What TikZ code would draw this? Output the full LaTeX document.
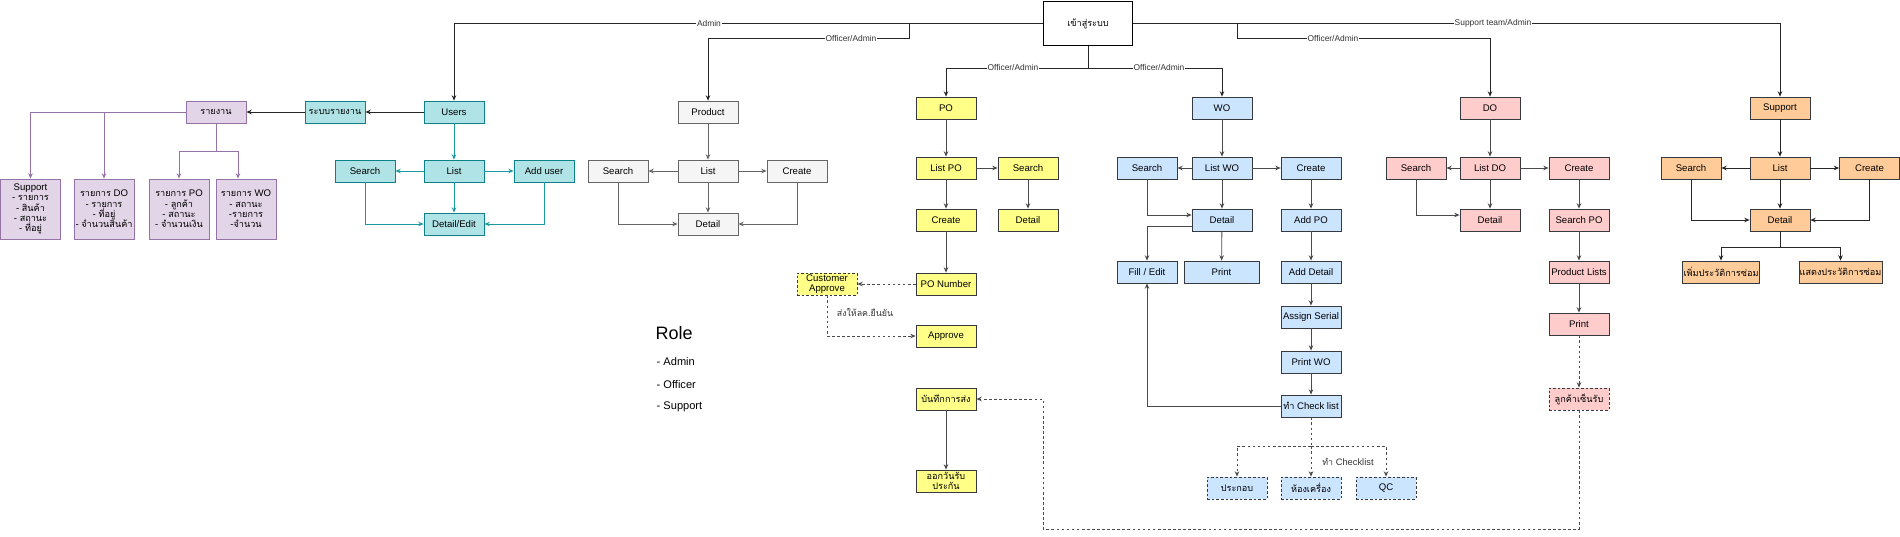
\documentclass[tikz,border=0pt]{standalone}
\usepackage{fontspec}
\setmainfont{Liberation Sans}
\newfontfamily\thaifont[Script=Thai,Scale=0.95]{Loma}
\newcommand\thtxt[1]{{\thaifont #1}}
\usetikzlibrary{arrows.meta,calc}
\definecolor{tealF}{HTML}{B0E3E6}\definecolor{tealD}{HTML}{0E8088}\definecolor{tealE}{HTML}{1A9AA0}
\definecolor{purF}{HTML}{E1D5E7}\definecolor{purD}{HTML}{9673A6}
\definecolor{grayF}{HTML}{F5F5F5}\definecolor{grayD}{HTML}{666666}
\definecolor{yelF}{HTML}{FFFF88}\definecolor{darkD}{HTML}{36393D}
\definecolor{bluF}{HTML}{CCE5FF}\definecolor{pinkF}{HTML}{FFCCCC}\definecolor{oraF}{HTML}{FFCC99}
\definecolor{edgeC}{HTML}{4A4A4A}\definecolor{lblC}{HTML}{333333}
\begin{document}
\begin{tikzpicture}[x=0.75pt,y=-0.75pt,
  font=\fontsize{7.2}{8}\selectfont,
  box/.style={draw, line width=0.6pt, minimum width=45pt, minimum height=16.5pt, inner sep=0.5pt, align=center},
  wide/.style={minimum width=56.25pt},
  tealbox/.style={box, fill=tealF, draw=tealD},
  purbox/.style={box, fill=purF, draw=purD},
  purtall/.style={purbox, minimum height=45pt, font=\fontsize{7.2}{7.7}\selectfont},
  graybox/.style={box, fill=grayF, draw=grayD},
  yelbox/.style={box, fill=yelF, draw=darkD},
  blubox/.style={box, fill=bluF, draw=darkD},
  pinkbox/.style={box, fill=pinkF, draw=darkD},
  orabox/.style={box, fill=oraF, draw=darkD},
  dbox/.style={dash pattern=on 2pt off 1.5pt},
  tip/.style={-{Stealth[length=4pt,width=3.4pt]}},
  earr/.style={tip, line width=0.6pt, draw=edgeC},
  eline/.style={line width=0.6pt, draw=edgeC},
  edash/.style={earr, dash pattern=on 2pt off 1.8pt},
  elinedash/.style={eline, dash pattern=on 2pt off 1.8pt},
  topedge/.style={tip, line width=0.6pt, draw=black!85},
  topline/.style={line width=0.6pt, draw=black!85},
  karr/.style={tip, line width=0.6pt, draw=black!85},
  tarr/.style={tip, line width=0.6pt, draw=tealE},
  parr/.style={tip, line width=0.6pt, draw=purD},
  garr/.style={tip, line width=0.6pt, draw=grayD},
  lbl/.style={fill=white, inner sep=0.6pt, text=lblC, font=\fontsize{6.3}{7}\selectfont},
  rolebig/.style={anchor=west, font=\fontsize{13.5}{16}\selectfont},
  rolesmall/.style={anchor=west, font=\fontsize{8.3}{10}\selectfont}
]
\useasboundingbox (0,0) rectangle (1900,536);

% login
\node[draw=black, line width=0.6pt, fill=white, minimum width=66.75pt, minimum height=33pt] (login) at (1088,23.5) {\thtxt{เข้าสู่ระบบ}};

% users / reports
\node[tealbox] (users) at (454,112) {Users};
\node[tealbox] (rep) at (335,112) {\thtxt{ระบบรายงาน}};
\node[purbox] (rpt) at (216,112) {\thtxt{รายงาน}};
\node[tealbox] (usearch) at (365,171) {Search};
\node[tealbox] (ulist) at (454,171) {List};
\node[tealbox] (uadd) at (544,171) {Add user};
\node[tealbox] (udetail) at (454,224) {Detail/Edit};
\node[purtall] (p1) at (30.5,209) {Support\\- \thtxt{รายการ}\\- \thtxt{สินค้า}\\- \thtxt{สถานะ}\\- \thtxt{ที่อยู่}};
\node[purtall] (p2) at (104,209) {\thtxt{รายการ} DO\\- \thtxt{รายการ}\\- \thtxt{ที่อยู่}\\- \thtxt{จำนวนสินค้า}};
\node[purtall] (p3) at (179,209) {\thtxt{รายการ} PO\\- \thtxt{ลูกค้า}\\- \thtxt{สถานะ}\\- \thtxt{จำนวนเงิน}};
\node[purtall] (p4) at (246,209) {\thtxt{รายการ} WO\\- \thtxt{สถานะ}\\-\thtxt{รายการ}\\-\thtxt{จำนวน}};

% product
\node[graybox] (product) at (708,112) {Product};
\node[graybox] (plist) at (708,171) {List};
\node[graybox] (psearch) at (618,171) {Search};
\node[graybox] (pcreate) at (797,171) {Create};
\node[graybox] (pdetail) at (708,224) {Detail};

% PO
\node[yelbox] (po) at (946,108) {PO};
\node[yelbox] (polist) at (946,168) {List PO};
\node[yelbox] (posearch) at (1028,168) {Search};
\node[yelbox] (pocreate) at (946,220) {Create};
\node[yelbox] (podetail) at (1028,220) {Detail};
\node[yelbox] (ponum) at (946,284) {PO Number};
\node[yelbox, dbox, font=\fontsize{7.2}{7.2}\selectfont] (custapp) at (827,284) {Customer\\Approve};
\node[yelbox] (approve) at (946,336) {Approve};
\node[yelbox] (record) at (946,399) {\thtxt{บันทึกการส่ง}};
\node[yelbox, font=\fontsize{7.2}{7.4}\selectfont] (warranty) at (946,481) {\thtxt{ออกวันรับ}\\\thtxt{ประกัน}};

% WO
\node[blubox] (wo) at (1222,108) {WO};
\node[blubox] (wosearch) at (1147,168) {Search};
\node[blubox] (wolist) at (1222,168) {List WO};
\node[blubox] (wocreate) at (1311,168) {Create};
\node[blubox] (wodetail) at (1222,220) {Detail};
\node[blubox] (woaddpo) at (1311,220) {Add PO};
\node[blubox] (wofill) at (1147,272) {Fill / Edit};
\node[blubox, wide] (woprint) at (1221.5,272) {Print};
\node[blubox] (woadddet) at (1311,272) {Add Detail};
\node[blubox] (woserial) at (1311,317) {Assign Serial};
\node[blubox] (woprintwo) at (1311,362) {Print WO};
\node[blubox] (wocheck) at (1311,406) {\thtxt{ทำ} Check list};
\node[blubox, dbox] (wo1) at (1237,488) {\thtxt{ประกอบ}};
\node[blubox, dbox] (wo2) at (1311,488) {\thtxt{ห้องเครื่อง}};
\node[blubox, dbox] (wo3) at (1386,488) {QC};

% DO
\node[pinkbox] (do) at (1490,108) {DO};
\node[pinkbox] (dosearch) at (1416,168) {Search};
\node[pinkbox] (dolist) at (1490,168) {List DO};
\node[pinkbox] (docreate) at (1579,168) {Create};
\node[pinkbox] (dodetail) at (1490,220) {Detail};
\node[pinkbox] (dosearchpo) at (1579,220) {Search PO};
\node[pinkbox] (doprodlist) at (1579,272) {Product Lists};
\node[pinkbox] (doprint) at (1579,324) {Print};
\node[pinkbox, dbox] (dosign) at (1579,399) {\thtxt{ลูกค้าเซ็นรับ}};

% Support
\node[orabox] (sup) at (1780,108) {Support};
\node[orabox] (supsearch) at (1691,168) {Search};
\node[orabox] (suplist) at (1780,168) {List};
\node[orabox] (supcreate) at (1869.5,168) {Create};
\node[orabox] (supdetail) at (1780,220) {Detail};
\node[orabox, wide] (supadd) at (1721,272) {\thtxt{เพิ่มประวัติการซ่อม}};
\node[orabox, wide] (supshow) at (1840.5,272) {\thtxt{แสดงประวัติการซ่อม}};

% Role
\node[rolebig] (role) at (651,333) {Role};
\node[rolesmall] (r1) at (652,362) {- Admin};
\node[rolesmall] (r2) at (652,385) {- Officer};
\node[rolesmall] (r3) at (652,407) {- Support};

% ---- top connectors
\draw[topedge] (login.west) -| (users.north);
\coordinate (b1) at (909,23);
\draw[topedge] (b1) -- ++(0,15) -| (product.north);
\draw[topline] (login.south) -- ++(0,22) coordinate (b2);
\draw[topedge] (b2) -| (po.north);
\draw[topedge] (b2) -| (wo.north);
\draw[topedge] (login.east) -| (sup.north);
\coordinate (b3) at (1237,23);
\draw[topedge] (b3) -- ++(0,15) -| (do.north);
\node[lbl] (l1) at (709,23) {Admin};
\node[lbl] (l2) at (851,38) {Officer/Admin};
\node[lbl] (l3) at (1013,67) {Officer/Admin};
\node[lbl] (l4) at (1159,67) {Officer/Admin};
\node[lbl] (l5) at (1493,23) {Support team/Admin};
\node[lbl] (l6) at (1333,38) {Officer/Admin};

% ---- users
\draw[karr] (users) -- (rep);
\draw[karr] (rep) -- (rpt);
\draw[tarr] (users) -- (ulist);
\draw[tarr] (ulist) -- (usearch);
\draw[tarr] (ulist) -- (uadd);
\draw[tarr] (ulist) -- (udetail);
\draw[tarr] (usearch) |- (udetail);
\draw[tarr] (uadd) |- (udetail);
\draw[parr] (rpt.west) -| (p1.north);
\draw[parr] (rpt.west) -| (p2.north);
\draw[line width=0.6pt, draw=purD] (rpt.south) -- ++(0,28) coordinate (rr);
\draw[parr] (rr) -| (p3.north);
\draw[parr] (rr) -| ($(p4.north)+(-8,0)$);

% ---- product
\draw[garr] (product) -- (plist);
\draw[garr] (plist) -- (psearch);
\draw[garr] (plist) -- (pcreate);
\draw[garr] (plist) -- (pdetail);
\draw[garr] (psearch) |- (pdetail);
\draw[garr] (pcreate) |- (pdetail);

% ---- PO
\draw[earr] (po) -- (polist);
\draw[earr] (polist) -- (posearch);
\draw[earr] (polist) -- (pocreate);
\draw[earr] (posearch) -- (podetail);
\draw[earr] (pocreate) -- (ponum);
\draw[edash] (ponum) -- (custapp);
\draw[edash] (custapp) |- (approve);
\node[text=lblC, font=\fontsize{7}{8}\selectfont] (lsend) at (865,313) {\thtxt{ส่งให้ลค.ยืนยัน}};
\draw[earr] (record) -- (warranty);
\coordinate (c1) at (1043,529);
\draw[edash] (dosign) |- (c1) |- (record);

% ---- WO
\draw[earr] (wo) -- (wolist);
\draw[earr] (wolist) -- (wosearch);
\draw[earr] (wolist) -- (wocreate);
\draw[earr] (wolist) -- (wodetail);
\draw[earr] (wosearch) |- ($(wodetail.west)+(0,-5)$);
\draw[earr] ($(wodetail.west)+(0,6)$) -| (wofill.north);
\draw[earr] (wodetail) -- (woprint);
\draw[earr] (wocreate) -- (woaddpo);
\draw[earr] (woaddpo) -- (woadddet);
\draw[earr] (woadddet) -- (woserial);
\draw[earr] (woserial) -- (woprintwo);
\draw[earr] (woprintwo) -- (wocheck);
\draw[earr] (wocheck.west) -| (wofill.south);
\draw[elinedash] (wocheck.south) -- ++(0,29) coordinate (d1);
\draw[edash] (d1) -| (wo1.north);
\draw[edash] (d1) -- (wo2.north);
\draw[edash] (d1) -| (wo3.north);
\node[text=lblC, font=\fontsize{7}{8}\selectfont] (lchk) at (1348,462) {\thtxt{ทำ} Checklist};

% ---- DO
\draw[earr] (do) -- (dolist);
\draw[earr] (dolist) -- (dosearch);
\draw[earr] (dolist) -- (docreate);
\draw[earr] (dolist) -- (dodetail);
\draw[earr] (dosearch) |- ($(dodetail.west)+(0,-5)$);
\draw[earr] (docreate) -- (dosearchpo);
\draw[earr] (dosearchpo) -- (doprodlist);
\draw[earr] (doprodlist) -- (doprint);
\draw[edash] (doprint) -- (dosign);

% ---- Support
\draw[karr] (sup) -- (suplist);
\draw[karr] (suplist) -- (supsearch);
\draw[karr] (suplist) -- (supcreate);
\draw[karr] (suplist) -- (supdetail);
\draw[karr] (supsearch) |- (supdetail);
\draw[karr] (supcreate) |- (supdetail);
\draw[topline] (supdetail.south) -- ++(0,16) coordinate (s1);
\draw[karr] (s1) -| (supadd.north);
\draw[karr] (s1) -| (supshow.north);
\end{tikzpicture}
\end{document}
